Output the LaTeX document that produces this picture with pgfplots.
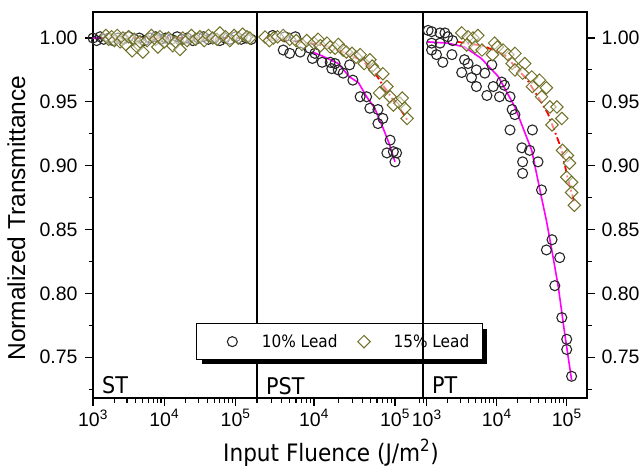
\documentclass[border=0pt]{standalone}
\usepackage{fontspec}
\setmainfont{Liberation Sans}
\newfontfamily\tahoma[FakeStretch=0.9]{DejaVu Sans}
\usepackage{pgfplots}
\pgfplotsset{compat=1.18}
\usetikzlibrary{shadows}
\definecolor{olivemk}{RGB}{112,112,40}
\definecolor{mymagenta}{RGB}{255,0,255}
\definecolor{myredc}{RGB}{255,0,0}
\pgfplotsset{
  mycirc/.style={only marks, mark=o, mark size=5pt, mark options={line width=1.1pt, draw=black!85},
    legend image code/.code={\path (0pt,0pt) (51pt,0pt); \draw[##1] plot coordinates {(24pt,0pt)};}},
  mydiam/.style={only marks, mark=square*, mark size=4.4pt, mark options={rotate=45, line width=1pt, draw=olivemk, fill=white, fill opacity=0.5},
    legend image code/.code={\path (0pt,0pt) (51pt,0pt); \draw[##1] plot coordinates {(24pt,0pt)};}},
  mymag/.style={mymagenta, line width=1.6pt, no marks, forget plot},
  myred/.style={myredc, line width=1.8pt, dash pattern=on 7pt off 3pt on 1.8pt off 3pt, no marks, forget plot},
}
\tikzset{mylab/.style={anchor=base west, inner sep=0pt, font=\tahoma\fontsize{23}{23}\selectfont, xshift=9pt, yshift=4pt}}
\begin{document}
\begin{tikzpicture}
\useasboundingbox (0,0) rectangle (643pt,469pt);
% ---------------- ST ----------------
\begin{axis}[scale only axis, height=386pt, width=164pt, at={(93pt,71pt)}, anchor=south west,
    xmode=log, xmin=1000, xmax=200000, ymin=0.718, ymax=1.0204,
    axis line style={line width=1.3pt},
    major tick length=8pt, minor tick length=4.5pt, tick style={line width=1.1pt, black},
    tick align=outside, xtick pos=bottom, ytick pos=left,
    xtick={1000,10000,100000},
    xticklabels={10\textsuperscript{3},10\textsuperscript{4},10\textsuperscript{5}},
    minor xtick={900,2000,3000,4000,5000,6000,7000,8000,9000,20000,30000,40000,50000,60000,70000,80000,90000,200000},
    ytick={0.75,0.80,0.85,0.90,0.95,1.00}, minor ytick={0.725,0.775,0.825,0.875,0.925,0.975},
    ticklabel style={font=\fontsize{19.5}{20}\selectfont},
    /pgf/number format/assume math mode=true,
    yticklabel style={xshift=-4pt, /pgf/number format/fixed, /pgf/number format/fixed zerofill, /pgf/number format/precision=2},
    clip=false]
\addplot[mycirc, forget plot] coordinates {(1000,1.000)(1122,0.998)(1259,1.001)(1413,0.999)(1660,1.000)(1905,0.998)(2239,1.000)(2630,0.999)(3162,1.001)(3802,0.999)(4467,1.000)(5248,0.998)(6310,1.000)(7586,1.001)(8913,0.999)(10470,1.000)(12589,0.999)(15136,1.001)(17783,0.999)(20893,1.000)(25119,0.998)(30200,1.000)(35481,1.001)(41687,0.999)(50119,1.000)(60256,0.998)(70795,1.000)(83176,0.999)(100000,1.001)(120226,0.999)(141254,1.000)(165959,0.999)};
\addplot[mydiam, forget plot] coordinates {(1514,1.002)(1660,0.999)(1820,1.001)(1995,0.998)(2188,1.002)(2399,0.997)(2630,1.000)(2884,0.995)(3162,1.001)(3548,0.990)(3802,0.999)(4169,0.993)(4571,0.997)(5012,0.989)(5754,0.998)(6607,1.002)(7586,0.999)(8128,0.993)(8710,1.001)(10000,0.997)(11482,1.000)(13183,0.994)(14454,0.997)(16596,0.991)(18197,1.000)(20893,0.998)(23988,1.002)(27542,0.999)(31623,1.001)(36308,0.998)(41687,1.002)(47863,1.000)(54954,0.999)(60256,1.004)(72444,1.001)(83176,0.998)(95499,1.002)(109648,1.000)(125893,1.003)(144544,1.001)(158489,1.000)};
\addplot[mymag] coordinates {(1000,1.000)(2200,1.000)};
\addplot[myred] coordinates {(2200,1.000)(145000,1.000)};
\node[mylab] at (rel axis cs:0,0) {ST};
\end{axis}
% ---------------- PST ----------------
\begin{axis}[scale only axis, height=386pt, width=166pt, at={(257pt,71pt)}, anchor=south west,
    xmode=log, xmin=1977, xmax=222000, ymin=0.718, ymax=1.0204,
    axis line style={line width=1.3pt},
    major tick length=8pt, minor tick length=4.5pt, tick style={line width=1.1pt, black},
    tick align=outside, xtick pos=bottom, ytick=\empty,
    xtick={1000,10000,100000},
    xticklabels={10\textsuperscript{3},10\textsuperscript{4},10\textsuperscript{5}},
    minor xtick={900,2000,3000,4000,5000,6000,7000,8000,9000,20000,30000,40000,50000,60000,70000,80000,90000,200000},
    ticklabel style={font=\fontsize{19.5}{20}\selectfont},
    clip=false,
    legend columns=2,
    legend style={at={(0.497,0.146)}, anchor=center, draw=black, line width=1.1pt, fill=white,
      font=\tahoma\fontsize{17}{17}\selectfont, inner xsep=11pt, inner ysep=8.5pt,
      nodes={inner sep=2pt},
      drop shadow={shadow xshift=5pt, shadow yshift=-5pt, fill=black, opacity=1}}]
\addplot[mycirc] coordinates {(3090,1.002)(4365,1.001)(5888,1.001)(4169,0.9906)(5012,0.988)(6761,0.989)(8913,0.992)(10233,0.988)(9550,0.984)(12589,0.981)(15849,0.981)(18197,0.980)(16596,0.976)(19953,0.975)(22909,0.9725)(27542,0.979)(30200,0.967)(37154,0.954)(44668,0.954)(48978,0.945)(61660,0.944)(70795,0.937)(61660,0.933)(87096,0.920)(79433,0.910)(95499,0.911)(104713,0.910)(100000,0.903)};
\addlegendentry{10\% Lead}
\addplot[mydiam] coordinates {(2483,1.0008)(2818,0.998)(3162,1.000)(3548,1.001)(4169,1.002)(5012,0.999)(6026,0.998)(7079,0.995)(8128,0.998)(10000,0.996)(11220,0.999)(12023,0.994)(14454,0.996)(15849,0.993)(18197,0.992)(19953,0.995)(22909,0.9906)(25119,0.989)(29512,0.988)(33113,0.985)(37154,0.987)(41687,0.980)(48978,0.983)(52481,0.978)(56234,0.975)(64565,0.957)(70795,0.972)(79433,0.962)(87096,0.954)(95499,0.9475)(114815,0.949)(123027,0.953)(131826,0.945)(141254,0.937)};
\addlegendentry{15\% Lead\hspace{7pt}}
\addplot[mymag] coordinates {(9550,0.989)(12589,0.986)(15849,0.983)(19953,0.980)(27542,0.9695)(35481,0.965)(44668,0.954)(56234,0.945)(70795,0.930)(85114,0.917)(100000,0.903)};
\addplot[myred] coordinates {(2512,1.000)(5012,0.998)(10000,0.9955)(15849,0.993)(27542,0.987)(39811,0.982)(48978,0.977)(60256,0.970)(70795,0.963)(83176,0.957)(95499,0.951)(114815,0.945)(141254,0.936)};
\node[mylab] at (rel axis cs:0,0) {PST};
\end{axis}
% ---------------- PT ----------------
\begin{axis}[scale only axis, height=386pt, width=164pt, at={(423pt,71pt)}, anchor=south west,
    xmode=log, xmin=885, xmax=195000, ymin=0.718, ymax=1.0204,
    axis line style={line width=1.3pt},
    major tick length=8pt, minor tick length=4.5pt, tick style={line width=1.1pt, black},
    tick align=outside, xtick pos=bottom, ytick pos=right, yticklabel pos=right,
    xtick={1000,10000,100000},
    xticklabels={10\textsuperscript{3},10\textsuperscript{4},10\textsuperscript{5}},
    minor xtick={900,2000,3000,4000,5000,6000,7000,8000,9000,20000,30000,40000,50000,60000,70000,80000,90000,200000},
    ytick={0.75,0.80,0.85,0.90,0.95,1.00}, minor ytick={0.725,0.775,0.825,0.875,0.925,0.975},
    ticklabel style={font=\fontsize{19.5}{20}\selectfont},
    /pgf/number format/assume math mode=true,
    yticklabel style={xshift=3pt, /pgf/number format/fixed, /pgf/number format/fixed zerofill, /pgf/number format/precision=2},
    clip=false]
\addplot[mycirc, forget plot] coordinates {(1047,1.006)(1175,1.005)(1549,1.004)(1820,1.004)(1995,1.001)(2344,0.998)(1175,0.996)(1549,0.996)(1175,0.9906)(1380,0.987)(1698,0.981)(2291,0.987)(3467,0.983)(3890,0.980)(3162,0.973)(5129,0.975)(6761,0.9725)(8511,0.979)(4365,0.969)(5129,0.962)(7244,0.955)(8913,0.962)(11749,0.9655)(12882,0.963)(10965,0.954)(15488,0.954)(16596,0.944)(18197,0.940)(15488,0.928)(32359,0.928)(22909,0.914)(29512,0.912)(23442,0.903)(38905,0.903)(23442,0.894)(43652,0.881)(61660,0.842)(51286,0.834)(79433,0.828)(67608,0.806)(85114,0.781)(100000,0.764)(100000,0.756)(117490,0.735)};
\addplot[mydiam, forget plot] coordinates {(3162,1.004)(3890,1.001)(4571,1.000)(5370,1.002)(3715,0.9945)(4898,0.993)(6166,0.9906)(9333,0.996)(10233,0.993)(12303,0.9906)(8710,0.987)(14454,0.987)(18197,0.988)(16596,0.980)(25119,0.980)(18197,0.975)(23442,0.9725)(31623,0.9695)(40738,0.967)(32359,0.962)(51286,0.961)(43652,0.954)(57544,0.946)(72444,0.946)(85114,0.937)(61660,0.932)(87096,0.912)(102329,0.908)(109648,0.902)(100000,0.891)(117490,0.887)(117490,0.879)(128825,0.869)};
\addplot[mymag] coordinates {(1000,0.997)(1995,0.996)(3467,0.993)(6026,0.984)(10471,0.970)(18197,0.946)(31623,0.912)(43652,0.875)(51286,0.857)(63096,0.830)(75858,0.805)(93325,0.769)(117490,0.732)};
\addplot[myred] coordinates {(2754,0.997)(6310,0.994)(12882,0.987)(27542,0.967)(39811,0.953)(53703,0.941)(70795,0.924)(85114,0.912)(102329,0.891)(128825,0.871)};
\node[mylab] at (rel axis cs:0,0) {PT};
\end{axis}
\node[rotate=90, anchor=base, font=\fontsize{24.5}{25}\selectfont, inner sep=0pt] at (25pt,251pt) {Normalized Transmittance};
\node[anchor=base, font=\tahoma\fontsize{24}{24}\selectfont, inner sep=0pt] at (331pt,8pt) {Input Fluence (J/m\textsuperscript{2})};
\end{tikzpicture}
\end{document}
